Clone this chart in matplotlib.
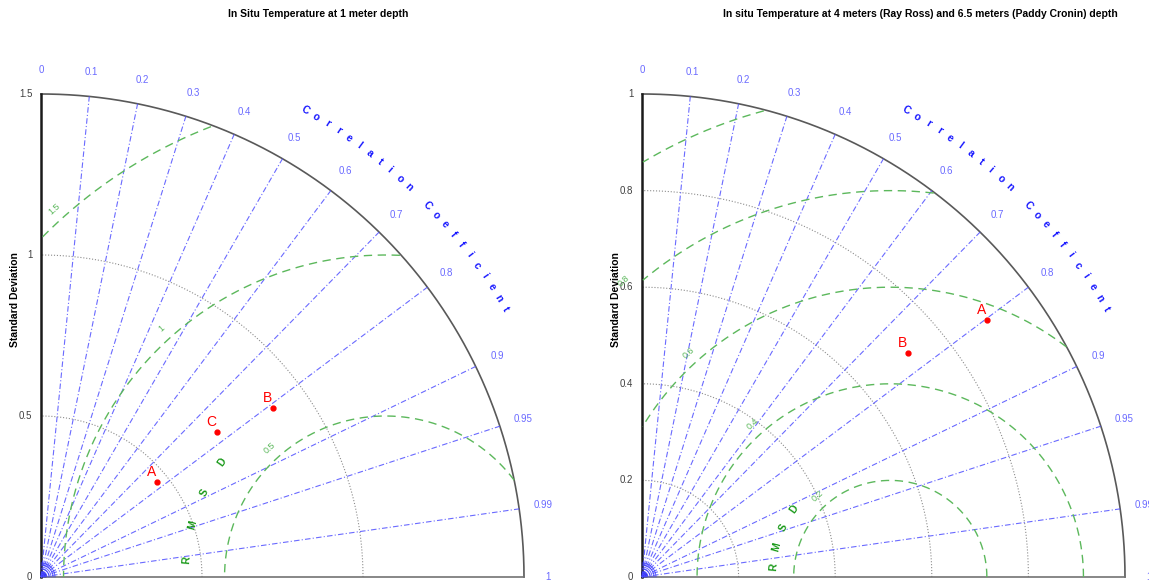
import numpy as np
import matplotlib.pyplot as plt

plt.rcParams['font.family'] = ['Liberation Sans', 'DejaVu Sans']

# left diagram: 1 m depth
left_title = 'In Situ Temperature at 1 meter depth'
left_ref = 1.07
left_rmax = 1.5
left_std_ticks = [0, 0.5, 1, 1.5]
left_std_labels = ['0', '0.5', '1', '1.5']
left_rms = [0.5, 1.0, 1.5]
left_rms_labels = ['0.5', '1', '1.5']
left_names = ['A', 'B', 'C']
left_std = [0.466, 0.891, 0.708]
left_corr = [0.774, 0.808, 0.772]

# right diagram: 4 m / 6.5 m depth
right_title = 'In situ Temperature at 4 meters (Ray Ross) and 6.5 meters (Paddy Cronin) depth'
right_ref = 0.514
right_rmax = 1.0
right_std_ticks = [0, 0.2, 0.4, 0.6, 0.8, 1]
right_std_labels = ['0', '0.2', '0.4', '0.6', '0.8', '1']
right_rms = [0.2, 0.4, 0.6, 0.8, 1.0]
right_rms_labels = ['0.2', '0.4', '0.6', '0.8', '']
right_names = ['A', 'B']
right_std = [0.890, 0.720]
right_corr = [0.802, 0.765]

corr_lines = [0.1, 0.2, 0.3, 0.4, 0.5, 0.6, 0.7, 0.8, 0.9, 0.95, 0.99]
corr_ticks = [0, 0.1, 0.2, 0.3, 0.4, 0.5, 0.6, 0.7, 0.8, 0.9, 0.95, 0.99, 1]
corr_tick_labels = ['0', '0.1', '0.2', '0.3', '0.4', '0.5', '0.6', '0.7', '0.8',
                    '0.9', '0.95', '0.99', '1']

BLUE = '#5050ff'
GREEN = '#5cb85c'
W, H = 1149, 583


def taylor(ax, rmax, ref, std_ticks, std_labels, rms, rms_labels,
           names, stds, corrs, rmsd_r, px):
    th = np.linspace(0, np.pi / 2, 300)
    # std arcs
    for s in std_ticks[1:-1]:
        ax.plot(s * np.cos(th), s * np.sin(th), ls=':', color='0.55', lw=0.8)
    ax.plot(rmax * np.cos(th), rmax * np.sin(th), color='0.35', lw=1.2)
    ax.plot([0, rmax], [0, 0], color='0.45', lw=1.2)
    ax.plot([0, 0], [0, rmax], color='0.1', lw=1.8)
    for s, lab in zip(std_ticks, std_labels):
        ax.text(-0.018 * rmax, s, lab, ha='right', va='center', fontsize=7, color='0.25')

    # correlation rays
    for c in corr_lines:
        a = np.arccos(c)
        ax.plot([0, rmax * np.cos(a)], [0, rmax * np.sin(a)], color=BLUE,
                lw=0.8, ls=(0, (5, 2, 1, 2)), alpha=0.85)
    for c, lab in zip(corr_ticks, corr_tick_labels):
        a = np.arccos(c)
        ax.text(1.05 * rmax * np.cos(a), 1.05 * rmax * np.sin(a), lab, ha='center',
                va='center', fontsize=7, color=BLUE, alpha=0.85)
    # small arcs where the rays meet
    for k in np.arange(2, 16, 2):
        r = k / px
        ax.plot(r * np.cos(th), r * np.sin(th), color='#3030ff', lw=0.6, alpha=0.8)
    ax.fill(np.r_[0, 5 / px * np.cos(th)], np.r_[0, 5 / px * np.sin(th)], color='#0000b0')

    # Correlation Coefficient along outer arc
    word = 'Correlation Coefficient'
    angs = np.linspace(60.5, 30, len(word))
    for ch, a in zip(word, angs):
        ar = np.radians(a)
        ax.text(1.11 * rmax * np.cos(ar), 1.11 * rmax * np.sin(ar), ch, rotation=a - 90,
                ha='center', va='center', fontsize=7.5, fontweight='bold', color='#1515ff')

    # RMSD contours
    t = np.linspace(0, np.pi, 600)
    for r, lab in zip(rms, rms_labels):
        x = ref + r * np.cos(t)
        y = r * np.sin(t)
        ok = (x >= 0) & (x ** 2 + y ** 2 <= rmax ** 2)
        ax.plot(np.where(ok, x, np.nan), np.where(ok, y, np.nan), color=GREEN,
                lw=1.0, ls=(0, (6, 4)))
        if lab:
            a = np.radians(132)
            rr = r + 0.025 * rmax
            ax.text(ref + rr * np.cos(a), rr * np.sin(a), lab, rotation=42,
                    ha='center', va='center', fontsize=6.5, color=GREEN)
    for ch, a in zip('RMSD', [175, 165, 155, 145]):
        ar = np.radians(a)
        ax.text(ref + rmsd_r * np.cos(ar), rmsd_r * np.sin(ar), ch, rotation=a - 90,
                ha='center', va='center', fontsize=7.5, fontweight='bold', color='#1a9a1a')

    # data points
    for n, s, c in zip(names, stds, corrs):
        x, y = s * c, s * np.sqrt(1 - c ** 2)
        ax.plot(x, y, 'o', color='red', ms=3.5)
        ax.annotate(n, (x, y), xytext=(-1, 3), textcoords='offset pixels',
                    ha='right', va='bottom', fontsize=10, color='red')
    ax.axis('off')


fig = plt.figure(figsize=(W / 100, H / 100), dpi=100)

# left axes: origin at pixel (41, 577), 322 px per unit
ax1 = fig.add_axes([0, 0, 575 / W, 1])
px1 = 322
ax1.set_xlim(-41 / px1, (575 - 41) / px1)
ax1.set_ylim((577 - H) / px1, 577 / px1)
taylor(ax1, left_rmax, left_ref, left_std_ticks, left_std_labels, left_rms,
       left_rms_labels, left_names, left_std, left_corr, 0.62, px1)

# right axes: origin at pixel (642, 577), 483 px per unit
ax2 = fig.add_axes([575 / W, 0, (W - 575) / W, 1])
px2 = 483
ax2.set_xlim((575 - 642) / px2, (W - 642) / px2)
ax2.set_ylim((577 - H) / px2, 577 / px2)
taylor(ax2, right_rmax, right_ref, right_std_ticks, right_std_labels, right_rms,
       right_rms_labels, right_names, right_std, right_corr, 0.243, px2)

fig.text(318 / W, 1 - 14 / H, left_title, ha='center', va='center', fontsize=7.5, fontweight='bold')
fig.text(920 / W, 1 - 14 / H, right_title, ha='center', va='center', fontsize=7.5, fontweight='bold')
fig.text(15 / W, 1 - 300 / H, 'Standard Deviation', rotation=90, ha='center', va='center',
         fontsize=7.5, fontweight='bold')
fig.text(616 / W, 1 - 300 / H, 'Standard Deviation', rotation=90, ha='center', va='center',
         fontsize=7.5, fontweight='bold')

fig.savefig('out.png', dpi=100)
